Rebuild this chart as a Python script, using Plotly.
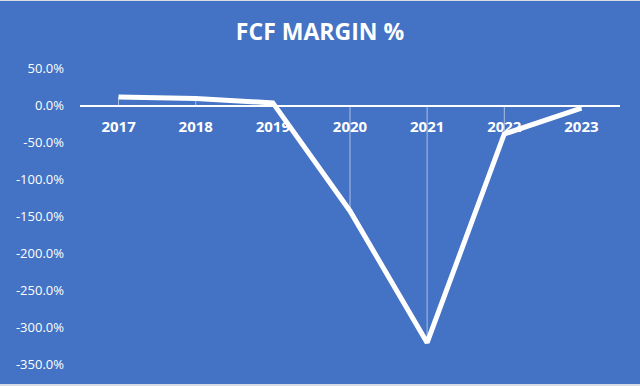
import plotly.graph_objects as go

years = ["2017", "2018", "2019", "2020", "2021", "2022", "2023"]
fcf_margin = [12, 10, 4, -142, -320, -38, -3]
y_tick_vals = [50, 0, -50, -100, -150, -200, -250, -300, -350]
y_tick_text = ["50.0%", "0.0%", "-50.0%", "-100.0%", "-150.0%", "-200.0%",
               "-250.0%", "-300.0%", "-350.0%"]

BG = "#4472C4"
Y_MIN, Y_MAX = -365, 62
T, B = 60, 10
PH = 386 - T - B

drop_up = [max(0, -v) for v in fcf_margin]
drop_down = [max(0, v) for v in fcf_margin]

fig = go.Figure()
fig.add_trace(go.Scatter(
    x=years, y=fcf_margin, mode="lines",
    line=dict(color="white", width=5),
    error_y=dict(type="data", symmetric=False, array=drop_up, arrayminus=drop_down,
                 color="rgba(255,255,255,0.55)", thickness=1, width=0),
    hoverinfo="skip", showlegend=False,
))

# thin light frame lines at top and bottom edges of the picture
fig.add_shape(type="line", xref="paper", yref="paper", x0=-1, x1=2,
              y0=1 + (T - 0.5) / PH, y1=1 + (T - 0.5) / PH,
              line=dict(color="#d8dce4", width=1), layer="above")
fig.add_shape(type="line", xref="paper", yref="paper", x0=-1, x1=2,
              y0=-(B - 1) / PH, y1=-(B - 1) / PH,
              line=dict(color="#d8dce4", width=2), layer="above")

fig.update_layout(
    width=640, height=386,
    paper_bgcolor=BG, plot_bgcolor=BG,
    margin=dict(l=80, r=20, t=T, b=B),
    title=dict(text="<b>FCF MARGIN %</b>", x=0.5, xanchor="center", y=1 - 32 / 386, yanchor="middle",
               font=dict(family="Open Sans", size=23, color="white")),
    xaxis=dict(
        type="category", range=[-0.5, 6.5],
        anchor="free", position=(0 - Y_MIN) / (Y_MAX - Y_MIN),
        showline=True, linecolor="white", linewidth=1.5,
        showgrid=False, zeroline=False, ticks="",
        tickfont=dict(family="Open Sans", size=15, color="white", weight="bold"),
        ticklabelstandoff=7,
    ),
    yaxis=dict(
        range=[Y_MIN, Y_MAX], tickvals=y_tick_vals, ticktext=y_tick_text,
        showgrid=False, zeroline=False, showline=False, ticks="",
        tickfont=dict(family="Open Sans", size=13, color="white"),
        ticklabelstandoff=15,
    ),
)

fig.write_html("out.html", config={"displayModeBar": False},
               post_script="document.body.style.margin='0';document.body.style.overflow='hidden';")
